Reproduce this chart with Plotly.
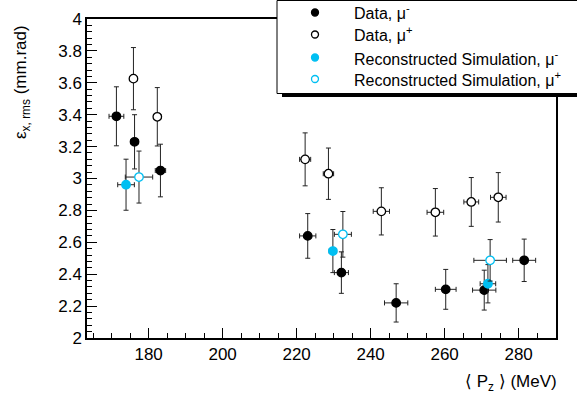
import plotly.graph_objects as go

# ---------------- data ----------------
data_mu_minus_x = [171.3, 176.2, 183.2, 223.0, 232.1, 246.9, 260.3, 270.7, 281.5]
data_mu_minus_y = [3.39, 3.23, 3.05, 2.64, 2.41, 2.22, 2.305, 2.30, 2.487]
data_mu_minus_xerr = [2.0, 1.0, 1.4, 2.2, 1.9, 3.15, 2.8, 3.15, 3.1]
data_mu_minus_yerr = [0.185, 0.17, 0.165, 0.14, 0.13, 0.12, 0.125, 0.125, 0.133]

data_mu_plus_x = [175.9, 182.35, 222.3, 228.6, 242.9, 257.5, 267.2, 274.5]
data_mu_plus_y = [3.626, 3.387, 3.12, 3.03, 2.794, 2.788, 2.853, 2.882]
data_mu_plus_xerr = [1.0, 1.0, 1.5, 1.4, 2.2, 2.25, 2.0, 2.1]
data_mu_plus_yerr = [0.195, 0.183, 0.166, 0.161, 0.148, 0.149, 0.153, 0.155]

sim_mu_minus_x = [173.9, 229.8, 271.7]
sim_mu_minus_y = [2.961, 2.545, 2.34]
sim_mu_minus_xerr = [2.25, 1.0, 2.1]
sim_mu_minus_yerr = [0.16, 0.135, 0.12]

sim_mu_plus_x = [177.4, 232.5, 272.3]
sim_mu_plus_y = [3.009, 2.65, 2.487]
sim_mu_plus_xerr = [3.7, 2.3, 4.4]
sim_mu_plus_yerr = [0.163, 0.143, 0.13]

legend_labels = ["Data, \u03bc<sup>-</sup>", "Data, \u03bc<sup>+</sup>",
                 "Reconstructed Simulation, \u03bc<sup>-</sup>",
                 "Reconstructed Simulation, \u03bc<sup>+</sup>"]

x_title = "\u27e8 P<sub>z</sub> \u27e9 (MeV)"
y_title = "\u03b5<sub>x, rms</sub> (mm.rad)"

# ---------------- style ----------------
W, H = 577, 399
L, R, T, B = 87, 21, 19, 61
PW, PH = W - L - R, H - T - B
FONT = "Liberation Sans, Arial, Helvetica, sans-serif"
CYAN = "#00bff2"


def pxx(x):
    return (x - L) / PW


def pxy(y):
    return (H - B - y) / PH


fig = go.Figure()


def add_series(xs, ys, xe, ye, fill, line, name):
    fig.add_trace(go.Scatter(
        x=xs, y=ys, mode="markers", name=name, showlegend=False,
        marker=dict(symbol="circle", size=8.5, color=fill,
                    line=dict(color=line, width=1.3)),
        error_x=dict(type="data", array=xe, visible=True, color="#222222",
                     thickness=1, width=2.5),
        error_y=dict(type="data", array=ye, visible=True, color="#222222",
                     thickness=1, width=2.5),
    ))


add_series(data_mu_minus_x, data_mu_minus_y, data_mu_minus_xerr, data_mu_minus_yerr,
           "black", "black", legend_labels[0])
add_series(data_mu_plus_x, data_mu_plus_y, data_mu_plus_xerr, data_mu_plus_yerr,
           "white", "black", legend_labels[1])
add_series(sim_mu_minus_x, sim_mu_minus_y, sim_mu_minus_xerr, sim_mu_minus_yerr,
           CYAN, CYAN, legend_labels[2])
add_series(sim_mu_plus_x, sim_mu_plus_y, sim_mu_plus_xerr, sim_mu_plus_yerr,
           "white", CYAN, legend_labels[3])

axis_common = dict(
    showgrid=False, zeroline=False, showline=True, linecolor="black",
    linewidth=1.5, mirror=True, ticks="inside", ticklen=10, tickwidth=1,
    tickcolor="black", tickfont=dict(family=FONT, size=17, color="black"),
)

fig.update_xaxes(range=[163.35, 290.1], dtick=20, tick0=0,
                 minor=dict(ticks="inside", ticklen=5, dtick=5, tick0=0,
                            tickcolor="black", tickwidth=1),
                 **axis_common)
fig.update_yaxes(range=[1.9999, 4.0001], dtick=0.2, tick0=0,
                 minor=dict(ticks="inside", ticklen=5, dtick=0.04, tick0=0,
                            tickcolor="black", tickwidth=1),
                 **axis_common)

shapes = []
annotations = []

# axis titles
annotations.append(dict(xref="paper", yref="paper", x=pxx(559), y=pxy(383),
                        xanchor="right", yanchor="middle", showarrow=False,
                        text=x_title, font=dict(family=FONT, size=17, color="black")))
annotations.append(dict(xref="paper", yref="paper", x=pxx(22), y=pxy(82),
                        xanchor="center", yanchor="middle", showarrow=False,
                        textangle=-90, text=y_title,
                        font=dict(family=FONT, size=17, color="black")))

# legend box with shadow
shapes.append(dict(type="rect", xref="paper", yref="paper", layer="above",
                   x0=pxx(282), x1=pxx(600), y0=pxy(97), y1=pxy(4),
                   fillcolor="black", line=dict(width=0)))
shapes.append(dict(type="rect", xref="paper", yref="paper", layer="above",
                   x0=pxx(277), x1=pxx(600), y0=pxy(93.5), y1=pxy(0.5),
                   fillcolor="white", line=dict(color="black", width=1)))

legend_rows = [12.5, 34.5, 57.5, 79]
legend_fill = ["black", "white", CYAN, "white"]
legend_line = ["black", "black", CYAN, CYAN]
for row, lab, fc, lc in zip(legend_rows, legend_labels, legend_fill, legend_line):
    shapes.append(dict(type="circle", xref="paper", yref="paper", layer="above",
                       xsizemode="pixel", ysizemode="pixel",
                       xanchor=pxx(315), yanchor=pxy(row),
                       x0=-3.5, x1=3.5, y0=-3.5, y1=3.5,
                       fillcolor=fc, line=dict(color=lc, width=1.3)))
    annotations.append(dict(xref="paper", yref="paper", x=pxx(352), y=pxy(row),
                            xanchor="left", yanchor="middle", showarrow=False,
                            text=lab, font=dict(family=FONT, size=16, color="black")))

fig.update_layout(
    width=W, height=H, margin=dict(l=L, r=R, t=T, b=B, autoexpand=False),
    paper_bgcolor="white", plot_bgcolor="white",
    shapes=shapes, annotations=annotations, showlegend=False,
    font=dict(family=FONT, color="black"),
)

fig.write_html("out.html",
               config={"displayModeBar": False},
               post_script="document.body.style.margin='0';"
                           "document.body.style.overflow='hidden';")
